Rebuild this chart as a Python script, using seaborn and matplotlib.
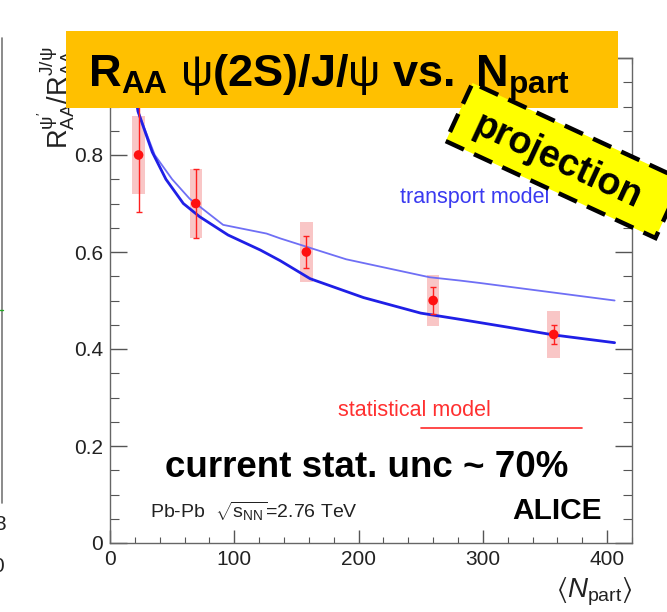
import numpy as np
import pandas as pd
import matplotlib
matplotlib.use("Agg")
import matplotlib.pyplot as plt
import matplotlib.transforms as mtransforms
from matplotlib.patches import Rectangle
from matplotlib.lines import Line2D
from matplotlib.ticker import MultipleLocator, FuncFormatter
import seaborn as sns

# ---------------- data ----------------
npart = [23, 69, 158, 260, 357]
ratio = [0.80, 0.70, 0.60, 0.50, 0.43]
stat_err = [0.118, 0.072, 0.033, 0.028, 0.020]
sys_err = [0.080, 0.072, 0.062, 0.053, 0.049]

# transport model (thick curve)
tm_thick_x = [18, 22.5, 34, 45, 59, 72, 95, 121, 137, 161, 204, 250, 282, 320, 357, 406]
tm_thick_y = [0.97, 0.89, 0.806, 0.75, 0.70, 0.673, 0.635, 0.604, 0.582, 0.545, 0.506, 0.474, 0.461, 0.445, 0.429, 0.413]
# transport model (thin curve)
tm_thin_x = [18, 22.5, 36, 50, 64, 91, 126, 137, 153, 190, 257, 282, 298, 406]
tm_thin_y = [0.97, 0.89, 0.80, 0.75, 0.71, 0.656, 0.638, 0.628, 0.615, 0.585, 0.548, 0.541, 0.536, 0.500]
# statistical model legend segment
stat_model_x = [250, 380]
stat_model_y = [0.238, 0.238]

x_ticks = [0, 100, 200, 300, 400]
y_ticks = [0, 0.2, 0.4, 0.6, 0.8, 1.0]

# ---------------- style ----------------
sns.set_style("ticks")
plt.rcParams["font.family"] = ["Liberation Sans", "DejaVu Sans"]
plt.rcParams["mathtext.fontset"] = "custom"
plt.rcParams["mathtext.rm"] = "Liberation Sans"
plt.rcParams["mathtext.it"] = "Liberation Sans:italic"
plt.rcParams["mathtext.bf"] = "Liberation Sans:bold"
plt.rcParams["mathtext.default"] = "regular"

W, H = 667, 612
fig = plt.figure(figsize=(W / 100, H / 100), dpi=100)
fig.patch.set_facecolor("white")

L, R, B, T = 110, 632, 543, 58
ax = fig.add_axes([L / W, 1 - B / H, (R - L) / W, (B - T) / H])
ax.set_facecolor("white")

def fx(px):
    return px / W

def fy(py):
    return 1 - py / H

# systematic boxes
ax.bar(npart, [2 * s for s in sys_err], bottom=[v - s for v, s in zip(ratio, sys_err)],
       width=10, color="#f9c6c6", edgecolor="none", zorder=2)

# model curves
sns.lineplot(x=tm_thin_x, y=tm_thin_y, ax=ax, sort=False, estimator=None,
             color="#6f6ff5", linewidth=1.3, zorder=3)
sns.lineplot(x=tm_thick_x, y=tm_thick_y, ax=ax, sort=False, estimator=None,
             color="#1f1fe6", linewidth=2.0, zorder=3)
sns.lineplot(x=stat_model_x, y=stat_model_y, ax=ax, sort=False, estimator=None,
             color="#ff2a2a", linewidth=1.2, zorder=3)

# statistical errors and points
ax.errorbar(npart, ratio, yerr=stat_err, fmt="none", ecolor="#ff2020",
            elinewidth=1.0, capsize=2.5, capthick=1.0, zorder=4)
sns.scatterplot(x=npart, y=ratio, ax=ax, color="#ff1010", s=48,
                edgecolor="none", zorder=5)

ax.set_xlim(0, 420)
ax.set_ylim(0, 1.0)
ax.set_xticks(x_ticks)
ax.set_yticks(y_ticks)
ax.xaxis.set_minor_locator(MultipleLocator(20))
ax.yaxis.set_minor_locator(MultipleLocator(0.05))
ax.yaxis.set_major_formatter(FuncFormatter(lambda v, p: "0" if v == 0 else ("1" if v == 1 else f"{v:.1f}")))
ax.set_xlabel("")
ax.set_ylabel("")

for s in ax.spines.values():
    s.set_color("#666666")
    s.set_linewidth(1.0)
ax.tick_params(axis="both", which="both", direction="in", colors="#555555",
               labelcolor="#222222", labelsize=15, top=True, right=True)
ax.tick_params(axis="y", which="major", length=12, width=1.0, pad=5)
ax.tick_params(axis="y", which="minor", length=6.5, width=0.8)
ax.tick_params(axis="x", which="major", length=9.5, width=1.0, pad=5)
ax.tick_params(axis="x", which="minor", length=4.5, width=0.8)

# ---------------- annotations ----------------
fig.text(fx(400), fy(203), "transport model", color="#3a3af0", fontsize=15.5,
         ha="left", va="baseline")
fig.text(fx(338), fy(416), "statistical model", color="#ff3030", fontsize=15.5,
         ha="left", va="baseline")
fig.text(fx(165), fy(477), "current stat. unc ~ 70%", color="black", fontsize=26.5,
         fontweight="bold", ha="left", va="baseline")
fig.text(fx(512), fy(519), "ALICE", color="black", fontsize=21.5,
         fontweight="bold", ha="left", va="baseline")
fig.text(fx(150), fy(518), r"Pb-Pb  $\sqrt{s_{\mathrm{NN}}}$=2.76 TeV", color="#222222",
         fontsize=14, ha="left", va="baseline")

# axis titles (ROOT-like placement)
fig.text(fx(56), fy(98), r"$R_{AA}^{\psi'}/R_{AA}^{J/\psi}$", rotation=90,
         fontsize=19.5, ha="center", va="center", color="#222222", zorder=1)
fig.text(fx(632), fy(597), r"$\langle\mathit{N}_{\mathrm{part}}\rangle$", fontsize=20,
         ha="right", va="baseline", color="#222222")

# title box
title_box = Rectangle((fx(66), fy(108)), (618 - 66) / W, (108 - 31) / H,
                      transform=fig.transFigure, facecolor="#FFC000",
                      edgecolor="none", zorder=5)
fig.add_artist(title_box)
fig.text(fx(88), fy(87),
         r"$\mathbf{R}_{\mathbf{AA}}$ $\psi$$\mathbf{(2S)/J/}$$\psi$$\mathbf{\ vs.\ N}_{\mathbf{part}}$",
         fontsize=32.5, ha="left", va="baseline", color="black", zorder=6)

# projection stamp (display pixel coordinates)
cx, cy = 564, H - 160.5
bw, bh = 231, 64
rot = mtransforms.Affine2D().rotate_deg_around(cx, cy, -24.8)
stamp = Rectangle((cx - bw / 2, cy - bh / 2), bw, bh, transform=rot,
                  facecolor="#FFFF00", edgecolor="black", linewidth=3.2,
                  linestyle=(0, (4.5, 2.5)), zorder=7)
fig.add_artist(stamp)
fig.text(fx(557), fy(162), "projection", rotation=-24.8, rotation_mode="anchor",
         fontsize=27, fontweight="bold", ha="center", va="center", color="black", zorder=8)

# fragment of neighbouring panel at the left edge
fig.add_artist(Line2D([fx(2), fx(2)], [fy(38), fy(503)], transform=fig.transFigure,
                      color="#777777", linewidth=1.2))
fig.add_artist(Line2D([fx(0), fx(3)], [fy(310), fy(310)], transform=fig.transFigure,
                      color="#22aa22", linewidth=1.0))
fig.text(fx(-6), fy(525), "8", fontsize=15, ha="left", va="center", color="#222222")
fig.text(fx(-8), fy(567), "0", fontsize=15, ha="left", va="center", color="#222222")

fig.savefig("out.png", dpi=100, facecolor="white")
